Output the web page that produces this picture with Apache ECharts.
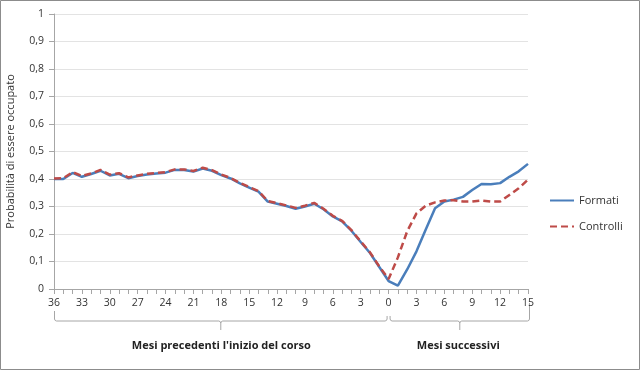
<!DOCTYPE html>
<html>
<head>
<meta charset="utf-8">
<script src="https://cdn.jsdelivr.net/npm/echarts@6/dist/echarts.min.js"></script>
<style>
html,body{margin:0;padding:0;background:#fff;}
#c{width:640px;height:370px;}
</style>
</head>
<body>
<div id="c"></div>
<script>
// Categories: months before start (36..0) then months after (1..15)
const monthsBefore = ['36','35','34','33','32','31','30','29','28','27','26','25','24','23','22','21','20','19','18','17','16','15','14','13','12','11','10','9','8','7','6','5','4','3','2','1','0'];
const monthsAfter = ['1','2','3','4','5','6','7','8','9','10','11','12','13','14','15'];
const categories = monthsBefore.concat(monthsAfter);

const formati = [0.400,0.400,0.422,0.408,0.418,0.430,0.413,0.419,0.403,0.411,0.416,0.420,0.423,0.433,0.433,0.427,0.438,0.430,0.414,0.402,0.384,0.369,0.354,0.318,0.310,0.302,0.292,0.300,0.310,0.290,0.264,0.246,0.212,0.171,0.131,0.080,0.029,
                 0.012,0.071,0.137,0.216,0.294,0.318,0.325,0.335,0.360,0.382,0.381,0.385,0.408,0.428,0.455];
const controlli = [0.402,0.403,0.425,0.411,0.420,0.433,0.416,0.421,0.406,0.413,0.419,0.422,0.425,0.435,0.435,0.429,0.441,0.432,0.416,0.404,0.386,0.371,0.356,0.320,0.312,0.304,0.295,0.303,0.313,0.292,0.266,0.248,0.214,0.173,0.133,0.082,0.036,
                   0.115,0.210,0.275,0.303,0.315,0.322,0.323,0.318,0.318,0.322,0.318,0.318,0.342,0.366,0.398];

const seriesNames = ['Formati','Controlli'];
const yTitle = 'Probabilità di essere occupato';
const groupLabels = ["Mesi precedenti l'inizio del corso", 'Mesi successivi'];

const FONT = '"Open Sans", "Liberation Sans", sans-serif';
const chart = echarts.init(document.getElementById('c'), null, {renderer:'canvas'});

const option = {
  animation: false,
  backgroundColor: '#ffffff',
  grid: {left: 54, right: 112, top: 14, bottom: 81, containLabel: false, outerBoundsMode: 'none'},
  legend: {
    orient: 'vertical',
    left: 549, top: 195, padding: 0,
    itemWidth: 24, itemHeight: 10, itemGap: 15,
    itemStyle: {opacity: 0},
    textStyle: {fontFamily: FONT, fontSize: 11, color: '#333'},
    data: seriesNames
  },
  xAxis: {
    type: 'category',
    data: categories,
    boundaryGap: false,
    axisLine: {lineStyle: {color: '#a6a6a6', width: 1}},
    axisTick: {show: true, interval: 0, length: 5, lineStyle: {color: '#a6a6a6'}},
    axisLabel: {interval: 2, margin: 9, fontFamily: FONT, fontSize: 10.5, color: '#333'},
    splitLine: {show: false}
  },
  yAxis: {
    type: 'value',
    min: 0, max: 1, interval: 0.1,
    name: yTitle,
    nameLocation: 'middle',
    nameRotate: 90,
    nameGap: 38,
    nameTextStyle: {fontFamily: FONT, fontSize: 11, color: '#333'},
    axisLine: {show: true, lineStyle: {color: '#a6a6a6'}},
    axisTick: {show: true, length: 5, lineStyle: {color: '#a6a6a6'}},
    axisLabel: {
      margin: 10, fontFamily: FONT, fontSize: 10.5, color: '#333',
      formatter: v => (Math.abs(v - Math.round(v)) < 1e-9 ? String(Math.round(v)) : v.toFixed(1).replace('.', ','))
    },
    splitLine: {lineStyle: {color: '#e3e3e3', width: 1}}
  },
  series: [
    {
      name: seriesNames[0], type: 'line', data: formati, symbol: 'none', smooth: false,
      color: '#4a7ebb',
      lineStyle: {color: '#4a7ebb', width: 2.5}
    },
    {
      name: seriesNames[1], type: 'line', data: controlli, symbol: 'none', smooth: false,
      color: '#be4b48',
      lineStyle: {color: '#be4b48', width: 2.5, type: [7, 4]}
    }
  ]
};
chart.setOption(option);

// Brackets and group labels below the x axis, positioned from the axis scale
function px(i) { return chart.convertToPixel({xAxisIndex: 0}, i); }
const y0 = chart.convertToPixel({yAxisIndex: 0}, 0);
const iStart = 0, iZero = monthsBefore.length - 1, iEnd = categories.length - 1;
const xa = px(iStart), xb = px(iZero), xc = px(iEnd);
const yH = y0 + 32, yTop = y0 + 22, yTip = y0 + 41, r = 2;

function brace(x1, x2, topLeft, topRight) {
  const m = (x1 + x2) / 2;
  const st = {fill: 'none', stroke: '#a6a6a6', lineWidth: 1};
  return [
    {type: 'polyline', silent: true, style: st, shape: {points: [
      [x1, topLeft], [x1, yH - r], [x1 + r * 0.3, yH - r * 0.3], [x1 + r, yH],
      [m - r, yH], [m - r * 0.3, yH + r * 0.3], [m, yH + r], [m, yTip]
    ]}},
    {type: 'polyline', silent: true, style: st, shape: {points: [
      [m, yH + r], [m + r * 0.3, yH + r * 0.3], [m + r, yH],
      [x2 - r, yH], [x2 - r * 0.3, yH - r * 0.3], [x2, yH - r], [x2, topRight]
    ]}}
  ];
}

const gfx = [
  {type: 'rect', silent: true, shape: {x: 0.5, y: 0.5, width: 639, height: 369}, style: {fill: 'none', stroke: '#8c8c8c', lineWidth: 1}}
].concat(brace(xa + 0.5, xb - 1.5, yTop, yH - 5))
 .concat(brace(xb + 1.5, xc + 1.5, yH - 5, yTop - 8))
 .concat([
  {type: 'text', silent: true, x: (xa + xb) / 2, y: y0 + 57, style: {text: groupLabels[0], font: 'bold 11px ' + FONT, fill: '#222', align: 'center', verticalAlign: 'middle'}},
  {type: 'text', silent: true, x: (xb + xc) / 2, y: y0 + 57, style: {text: groupLabels[1], font: 'bold 11px ' + FONT, fill: '#222', align: 'center', verticalAlign: 'middle'}}
]);

chart.setOption({graphic: gfx});
</script>
</body>
</html>
